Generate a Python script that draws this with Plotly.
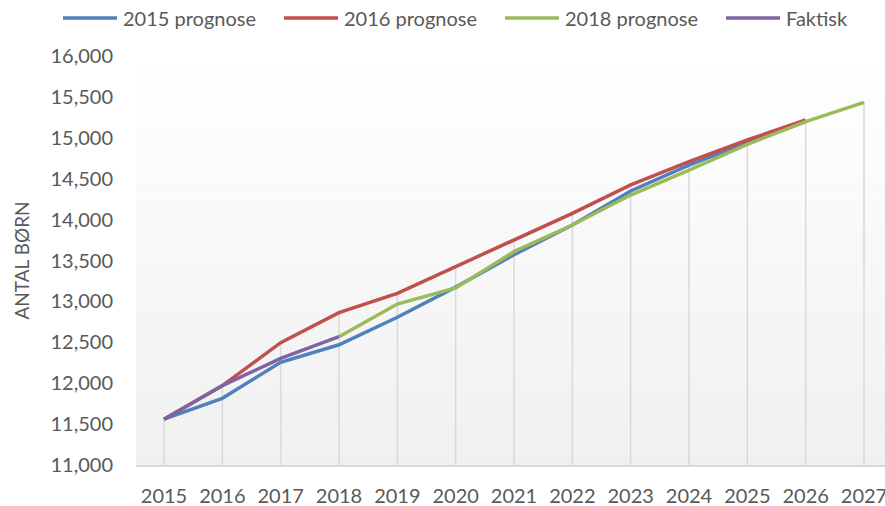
import plotly.graph_objects as go

years = ["2015", "2016", "2017", "2018", "2019", "2020", "2021", "2022",
         "2023", "2024", "2025", "2026", "2027"]

prog_2015 = [11560, 11815, 12255, 12470, 12806, 13175, 13570, 13934,
             14350, 14665, 14940, 15197, None]
prog_2016 = [11560, 11970, 12495, 12862, 13099, 13424, 13751, 14077,
             14425, 14708, 14973, 15218, None]
prog_2018 = [None, None, None, 12569, 12968, 13165, 13608, 13934,
             14300, 14606, 14920, 15197, 15434]
faktisk = [11560, 11970, 12304, 12569, None, None, None, None,
           None, None, None, None, None]

series = [
    ("2015 prognose", prog_2015, "#4F81BD"),
    ("2016 prognose", prog_2016, "#C0504D"),
    ("2018 prognose", prog_2018, "#9BBB59"),
    ("Faktisk", faktisk, "#8064A2"),
]

Y_MIN, Y_MAX = 11000, 16000
FONT = "Lato"
TXT = "#595959"

W, H = 885, 506
ML, MR, MT, MB = 136, 0, 56, 41
PW, PH = W - ML - MR, H - MT - MB


def px_x(p):
    return (p - ML) / PW


def px_y(p):
    return (H - MB - p) / PH


fig = go.Figure()

# drop lines from the highest point of each category down to the axis
dx, dy = [], []
for i, yr in enumerate(years):
    vals = [s[1][i] for s in series if s[1][i] is not None]
    if vals:
        dx += [yr, yr, None]
        dy += [max(vals), Y_MIN, None]
fig.add_trace(go.Scatter(x=dx, y=dy, mode="lines", showlegend=False,
                         hoverinfo="skip",
                         line=dict(color="#D9D9D9", width=1.5)))

for name, vals, col in series:
    fig.add_trace(go.Scatter(x=years, y=vals, name=name, mode="lines",
                             showlegend=False,
                             line=dict(color=col, width=3.5)))

# gradient plot background (bands in paper coords)
n = 40
top = (255, 255, 255)
bot = (240, 240, 240)
shapes = []
for k in range(n):
    t = (k + 0.5) / n
    c = tuple(round(top[j] + (bot[j] - top[j]) * t) for j in range(3))
    shapes.append(dict(type="rect", xref="paper", yref="paper",
                       x0=0, x1=1, y0=1 - (k + 1) / n, y1=1 - k / n,
                       fillcolor="rgb(%d,%d,%d)" % c, line=dict(width=0),
                       layer="below"))

# custom one-row legend (line sample + text)
annotations = []
leg_y = px_y(18)
for k, (name, vals, col) in enumerate(series):
    x0 = 63 + k * 221
    shapes.append(dict(type="line", xref="paper", yref="paper",
                       x0=px_x(x0), x1=px_x(x0 + 54), y0=leg_y, y1=leg_y,
                       line=dict(color=col, width=3.5), layer="above"))
    annotations.append(dict(text=name, xref="paper", yref="paper",
                            x=px_x(x0 + 58), y=leg_y, showarrow=False,
                            xanchor="left", yanchor="middle",
                            font=dict(family=FONT, size=20, color=TXT)))

annotations.append(dict(text="ANTAL BØRN", xref="paper", yref="paper",
                        x=px_x(21), y=0.5, textangle=-90,
                        showarrow=False, xanchor="center", yanchor="middle",
                        font=dict(family=FONT, size=19, color=TXT)))

fig.update_layout(
    width=W, height=H,
    margin=dict(l=ML, r=MR, t=MT, b=MB, autoexpand=False),
    paper_bgcolor="white",
    plot_bgcolor="white",
    shapes=shapes,
    annotations=annotations,
    font=dict(family=FONT, size=20, color=TXT),
    showlegend=False,
    xaxis=dict(type="category", range=[-0.48, 12.36], showgrid=False,
               automargin=False,
               showline=True, linecolor="#D9D9D9", linewidth=1.5,
               ticks="outside", ticklen=12, tickcolor="rgba(0,0,0,0)",
               tickfont=dict(family=FONT, size=20, color=TXT),
               zeroline=False),
    yaxis=dict(range=[Y_MIN, Y_MAX], dtick=500, tickformat=",d",
               automargin=False,
               showgrid=False, showline=False, zeroline=False,
               ticks="outside", ticklen=18, tickcolor="rgba(0,0,0,0)",
               tickfont=dict(family=FONT, size=20, color=TXT)),
)

fig.write_html("out.html",
               config={"displayModeBar": False},
               post_script="document.body.style.margin='0';"
                           "document.body.style.overflow='hidden';")
